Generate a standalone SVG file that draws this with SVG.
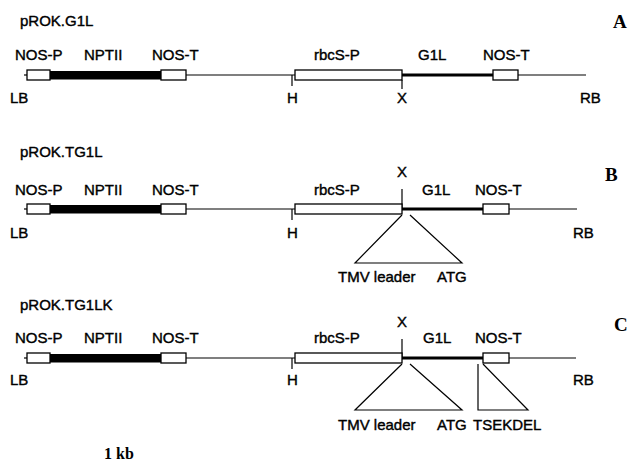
<svg xmlns="http://www.w3.org/2000/svg" width="632" height="468" viewBox="0 0 632 468">
<style>
.t{font-family:"Liberation Sans",Arial,sans-serif;font-size:15px;fill:#000;stroke:#000;stroke-width:0.4}
.s{font-family:"Liberation Serif","Times New Roman",serif;font-weight:bold;fill:#000}
.box{fill:#fff;stroke:#000;stroke-width:1.3}
.bar{fill:#000}
.ln{stroke:#000;stroke-width:1.2;fill:none}
.gl{stroke:#000;stroke-width:3.2;fill:none}
</style>
<rect width="632" height="468" fill="#fff"/>

<!-- Panel A -->
<g id="panelA">
  <text class="t" x="20" y="26">pROK.G1L</text>
  <text class="s" x="613" y="28" font-size="19">A</text>
  <g id="A-labels">
    <text class="t" x="15" y="60">NOS-P</text>
    <text class="t" x="84" y="60">NPTII</text>
    <text class="t" x="152" y="60">NOS-T</text>
    <text class="t" x="314" y="60">rbcS-P</text>
    <text class="t" x="418" y="60">G1L</text>
    <text class="t" x="483" y="60">NOS-T</text>
    <text class="t" x="10" y="103">LB</text>
    <text class="t" x="287" y="103">H</text>
    <text class="t" x="397" y="103">X</text>
    <text class="t" x="580" y="103">RB</text>
  </g>
  <g id="A-connectors">
    <line class="ln" x1="24" y1="75" x2="27" y2="75"/>
    <line class="ln" x1="186" y1="75" x2="295" y2="75"/>
    <line class="gl" x1="402" y1="75" x2="493" y2="75"/>
    <line class="ln" x1="518" y1="75" x2="586" y2="75"/>
    <line class="ln" x1="292" y1="75" x2="292" y2="86"/>
    <line class="ln" x1="402" y1="80" x2="402" y2="89"/>
  </g>
  <g id="A-nosp"><rect class="box" x="27" y="70" width="23" height="10"/></g>
  <g id="A-nptii"><rect class="bar" x="50" y="71" width="111" height="8.5"/></g>
  <g id="A-nost1"><rect class="box" x="161" y="70" width="25" height="10"/></g>
  <g id="A-rbcs"><rect class="box" x="295" y="70" width="107" height="10"/></g>
  <g id="A-nost2"><rect class="box" x="493" y="70" width="25" height="10"/></g>
</g>

<!-- Panel B -->
<g id="panelB">
  <text class="t" x="20" y="157">pROK.TG1L</text>
  <text class="s" x="605" y="181" font-size="19">B</text>
  <g id="B-labels">
    <text class="t" x="15" y="195">NOS-P</text>
    <text class="t" x="84" y="195">NPTII</text>
    <text class="t" x="152" y="195">NOS-T</text>
    <text class="t" x="314" y="195">rbcS-P</text>
    <text class="t" x="422" y="195">G1L</text>
    <text class="t" x="475" y="195">NOS-T</text>
    <text class="t" x="397" y="177">X</text>
    <text class="t" x="10" y="238">LB</text>
    <text class="t" x="287" y="238">H</text>
    <text class="t" x="573" y="238">RB</text>
    <text class="t" x="338" y="282">TMV leader</text>
    <text class="t" x="437" y="282">ATG</text>
  </g>
  <g id="B-connectors">
    <line class="ln" x1="24" y1="209" x2="27" y2="209"/>
    <line class="ln" x1="186" y1="209" x2="295" y2="209"/>
    <line class="gl" x1="402" y1="209" x2="483" y2="209"/>
    <line class="ln" x1="509" y1="209" x2="577" y2="209"/>
    <line class="ln" x1="292" y1="209" x2="292" y2="220"/>
    <line class="ln" x1="402" y1="189" x2="402" y2="209"/>
    <polyline class="ln" points="402,215 355,263 462,263 410,215"/>
  </g>
  <g id="B-nosp"><rect class="box" x="27" y="204" width="23" height="10"/></g>
  <g id="B-nptii"><rect class="bar" x="50" y="205" width="111" height="8.5"/></g>
  <g id="B-nost1"><rect class="box" x="161" y="204" width="25" height="10"/></g>
  <g id="B-rbcs"><rect class="box" x="295" y="204" width="107" height="10"/></g>
  <g id="B-nost2"><rect class="box" x="483" y="204" width="26" height="10"/></g>
</g>

<!-- Panel C -->
<g id="panelC">
  <text class="t" x="20" y="310">pROK.TG1LK</text>
  <text class="s" x="614" y="331" font-size="19">C</text>
  <g id="C-labels">
    <text class="t" x="15" y="343">NOS-P</text>
    <text class="t" x="84" y="343">NPTII</text>
    <text class="t" x="152" y="343">NOS-T</text>
    <text class="t" x="314" y="343">rbcS-P</text>
    <text class="t" x="423" y="343">G1L</text>
    <text class="t" x="475" y="343">NOS-T</text>
    <text class="t" x="397" y="327">X</text>
    <text class="t" x="10" y="385">LB</text>
    <text class="t" x="287" y="385">H</text>
    <text class="t" x="573" y="385">RB</text>
    <text class="t" x="338" y="430">TMV leader</text>
    <text class="t" x="437" y="430">ATG</text>
    <text class="t" x="473" y="430">TSEKDEL</text>
  </g>
  <g id="C-connectors">
    <line class="ln" x1="24" y1="358" x2="27" y2="358"/>
    <line class="ln" x1="186" y1="358" x2="295" y2="358"/>
    <line class="gl" x1="402" y1="358" x2="483" y2="358"/>
    <line class="ln" x1="509" y1="358" x2="576" y2="358"/>
    <line class="ln" x1="292" y1="358" x2="292" y2="369"/>
    <line class="ln" x1="402" y1="339" x2="402" y2="358"/>
    <polyline class="ln" points="402,364 355,410 462,410 410,364"/>
    <polyline class="ln" points="478,364 478,410 528,410 483,364"/>
  </g>
  <g id="C-nosp"><rect class="box" x="27" y="353" width="23" height="10"/></g>
  <g id="C-nptii"><rect class="bar" x="50" y="354" width="111" height="8.5"/></g>
  <g id="C-nost1"><rect class="box" x="161" y="353" width="25" height="10"/></g>
  <g id="C-rbcs"><rect class="box" x="295" y="353" width="107" height="10"/></g>
  <g id="C-nost2"><rect class="box" x="483" y="353" width="26" height="10"/></g>
</g>

<text class="s" x="104" y="459" font-size="16">1 kb</text>
</svg>
